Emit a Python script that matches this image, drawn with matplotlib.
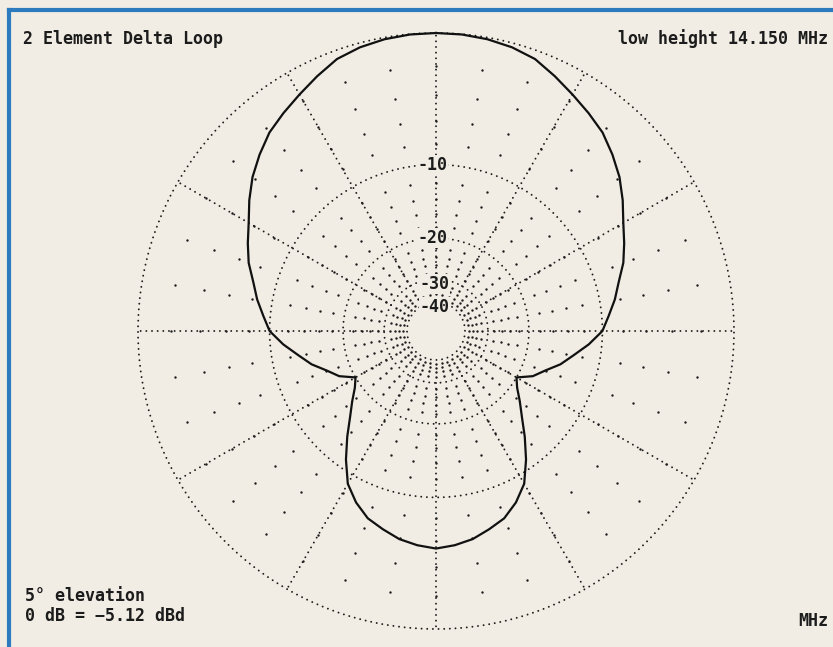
import numpy as np
import matplotlib
matplotlib.use("Agg")
import matplotlib.pyplot as plt
from matplotlib.lines import Line2D

# azimuth pattern, degrees clockwise from the front, gain in dB (0 dB = peak)
azimuth = [0, 5, 10, 15, 20, 25, 30, 35, 40, 45, 50, 55, 60, 65, 70, 75, 80,
           85, 90, 95, 100, 105, 110, 115, 120, 125, 130, 135, 140, 145, 150,
           155, 160, 165, 170, 175, 180,
           185, 190, 195, 200, 205, 210, 215, 220, 225, 230, 235, 240, 245,
           250, 255, 260, 265, 270, 275, 280, 285, 290, 295, 300, 305, 310,
           315, 320, 325, 330, 335, 340, 345, 350, 355, 360]
gain_db = [0.0, -0.02, -0.1, -0.25, -0.5, -1.0, -1.5, -1.95, -2.4, -3.05,
           -3.75, -4.6, -5.5, -6.2, -6.9, -7.8, -8.5, -9.3, -10.0, -11.4,
           -13.0, -14.4, -16.2, -17.6, -20.0, -18.9, -17.2, -15.4, -13.2,
           -11.0, -9.0, -7.8, -6.9, -6.4, -5.9, -5.6, -5.4,
           -5.6, -5.9, -6.4, -6.9, -7.8, -9.0, -11.0, -13.2, -15.4, -17.2,
           -18.9, -20.0, -17.6, -16.2, -14.4, -13.0, -11.4, -10.0, -9.3,
           -8.5, -7.8, -6.9, -6.2, -5.5, -4.6, -3.75, -3.05, -2.4, -1.95,
           -1.5, -1.0, -0.5, -0.25, -0.1, -0.02, 0.0]

ring_db = [0, -10, -20, -30, -40]
ring_labels = ["-10", "-20", "-30", "-40"]
spoke_deg = list(range(0, 360, 30))
dot_deg = list(range(0, 360, 10))
dot_db = [-2, -4, -6, -8, -12, -14, -16, -18, -22, -24, -26, -28,
          -32, -34, -36, -38]

title_left = "2 Element Delta Loop"
title_right = "low height 14.150 MHz"
note_lines = ["5° elevation", "0 dB = \u22125.12 dBd"]
freq_unit = "MHz"

paper = "#f1ede4"
ink = "#1c1c1c"
frame_blue = "#2b7bbe"


def arrl_radius(db):
    # ARRL log-periodic scale: radius shrinks by 0.89 for every 2 dB down
    return 0.89 ** (-np.asarray(db, dtype=float) / 2)


fig = plt.figure(figsize=(8.33, 6.47), dpi=100, facecolor=paper)

# blue frame lines along top and left edge
fig.add_artist(Line2D([9 / 833, 1.0], [1 - 10 / 647] * 2, color=frame_blue, lw=3))
fig.add_artist(Line2D([9 / 833] * 2, [0.0, 1 - 10 / 647], color=frame_blue, lw=3))

cx, cy, R = 436, 331, 298
ax = fig.add_axes([(cx - R) / 833, (647 - cy - R) / 647, 2 * R / 833, 2 * R / 647],
                  projection="polar")
ax.set_theta_zero_location("N")
ax.set_theta_direction(-1)
ax.set_ylim(0, 1)
ax.axis("off")

dotted = dict(color=ink, lw=1.4, linestyle=(0, (0.01, 2.9)),
              dash_capstyle="round", clip_on=False)

full = np.linspace(0, 2 * np.pi, 721)
for db in ring_db:
    ax.plot(full, np.full_like(full, arrl_radius(db)), **dotted)

r_in = arrl_radius(-30)
for deg in spoke_deg:
    ax.plot([np.radians(deg)] * 2, [r_in, 1.0], **dotted)

# scattered marks every 10 degrees at the even dB steps
tt, rr = np.meshgrid(np.radians(dot_deg), arrl_radius(dot_db))
ax.scatter(tt.ravel(), rr.ravel(), s=3, color=ink, lw=0, clip_on=False)

# the pattern itself
ax.plot(np.radians(azimuth), arrl_radius(gain_db), color="#111111", lw=1.6,
        solid_joinstyle="round", clip_on=False, zorder=5)

label_font = dict(family="DejaVu Sans Mono", weight="bold", color=ink)
offsets = [(-4, 0), (-4, 0), (-2, -5), (-1, -5)]
for lab, db, off in zip(ring_labels, ring_db[1:], offsets):
    ax.annotate(lab, (0, arrl_radius(db)), xytext=off, textcoords="offset pixels",
                ha="center", va="center", fontsize=12, zorder=6,
                bbox=dict(boxstyle="square,pad=0.05", fc=paper, ec="none"),
                **label_font)

fig.text(23 / 833, 1 - 39 / 647, title_left, ha="left", va="center",
         fontsize=12, **label_font)
fig.text(828 / 833, 1 - 39 / 647, title_right, ha="right", va="center",
         fontsize=12, **label_font)
fig.text(25 / 833, 1 - 596 / 647, note_lines[0], ha="left", va="center",
         fontsize=12, **label_font)
fig.text(25 / 833, 1 - 616 / 647, note_lines[1], ha="left", va="center",
         fontsize=12, **label_font)
fig.text(828 / 833, 1 - 621 / 647, freq_unit, ha="right", va="center",
         fontsize=12, **label_font)

fig.savefig("out.png", dpi=100, facecolor=paper)
